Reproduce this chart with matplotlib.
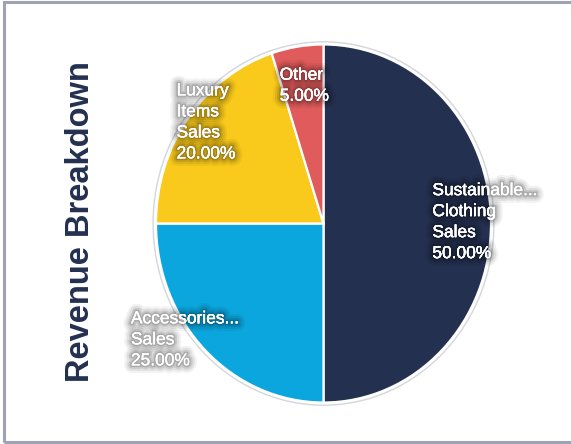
import numpy as np
import matplotlib
matplotlib.use("Agg")
import matplotlib.pyplot as plt
import matplotlib.patheffects as pe
from matplotlib.patches import Ellipse, Rectangle

labels = ["Sustainable...\nClothing\nSales", "Accessories...\nSales", "Luxury\nItems\nSales", "Other"]
values = [50.0, 25.0, 20.0, 5.0]
colors = ["#243050", "#0ba6de", "#f9ca1b", "#e05b5b"]
title = "Revenue Breakdown"

# small layout nudges for label boxes (in points, dx, dy)
label_nudges = [(0, 1), (-5, -4), (0, -4.5), (-1.5, 3.5)]

W, H = 571, 444
fig = plt.figure(figsize=(W / 100, H / 100), dpi=100)
fig.patch.set_facecolor("white")

# frame border
fig.add_artist(Rectangle((4 / W, 2.5 / H), 1.2, (H - 5) / H, transform=fig.transFigure,
                         fill=False, edgecolor="#9ea2b2", linewidth=2.2))

cx, cy = 323.5, 223.5
rx, ry = 167.5, 179.0
pad = 1.06
ax = fig.add_axes([(cx - rx * pad) / W, 1 - (cy + ry * pad) / H, 2 * rx * pad / W, 2 * ry * pad / H])

wedges, _ = ax.pie(values, colors=colors, startangle=90, counterclock=False,
                   wedgeprops=dict(edgecolor="white", linewidth=1.6))
ax.set_aspect("auto")
ax.set_xlim(-pad, pad)
ax.set_ylim(-pad, pad)
ax.add_patch(Ellipse((0, 0), 2.035, 2.03, fill=False, edgecolor="#d4d6dc", linewidth=1.0, zorder=0))
ax.axis("off")

total = sum(values)
glow = [pe.withStroke(linewidth=11, foreground=(0, 0, 0, 0.05)),
        pe.withStroke(linewidth=8, foreground=(0, 0, 0, 0.07)),
        pe.withStroke(linewidth=5, foreground=(0, 0, 0, 0.10)),
        pe.withStroke(linewidth=2.5, foreground=(0, 0, 0, 0.15)),
        pe.Normal()]
r_lab = 0.65
for w, lab, v, nd in zip(wedges, labels, values, label_nudges):
    mid = np.deg2rad((w.theta1 + w.theta2) / 2)
    c, s = np.cos(mid), np.sin(mid)
    ha = "left" if c > 0.3 else ("right" if c < -0.3 else "center")
    va = "bottom" if s > 0.3 else ("top" if s < -0.3 else "center")
    ax.annotate(f"{lab}\n{v / total * 100:.2f}%", xy=(r_lab * c, r_lab * s),
                xytext=nd, textcoords="offset points", ha=ha, va=va,
                multialignment="left", color="white", fontsize=12.5, family="Liberation Sans",
                linespacing=1.5, path_effects=glow, zorder=5)

fig.text(81 / W, 1 - 222 / H, title, rotation=90, ha="center", va="center",
         fontsize=23.5, fontweight="bold", color="#243050", family="Liberation Sans")

fig.savefig("out.png", dpi=100)
